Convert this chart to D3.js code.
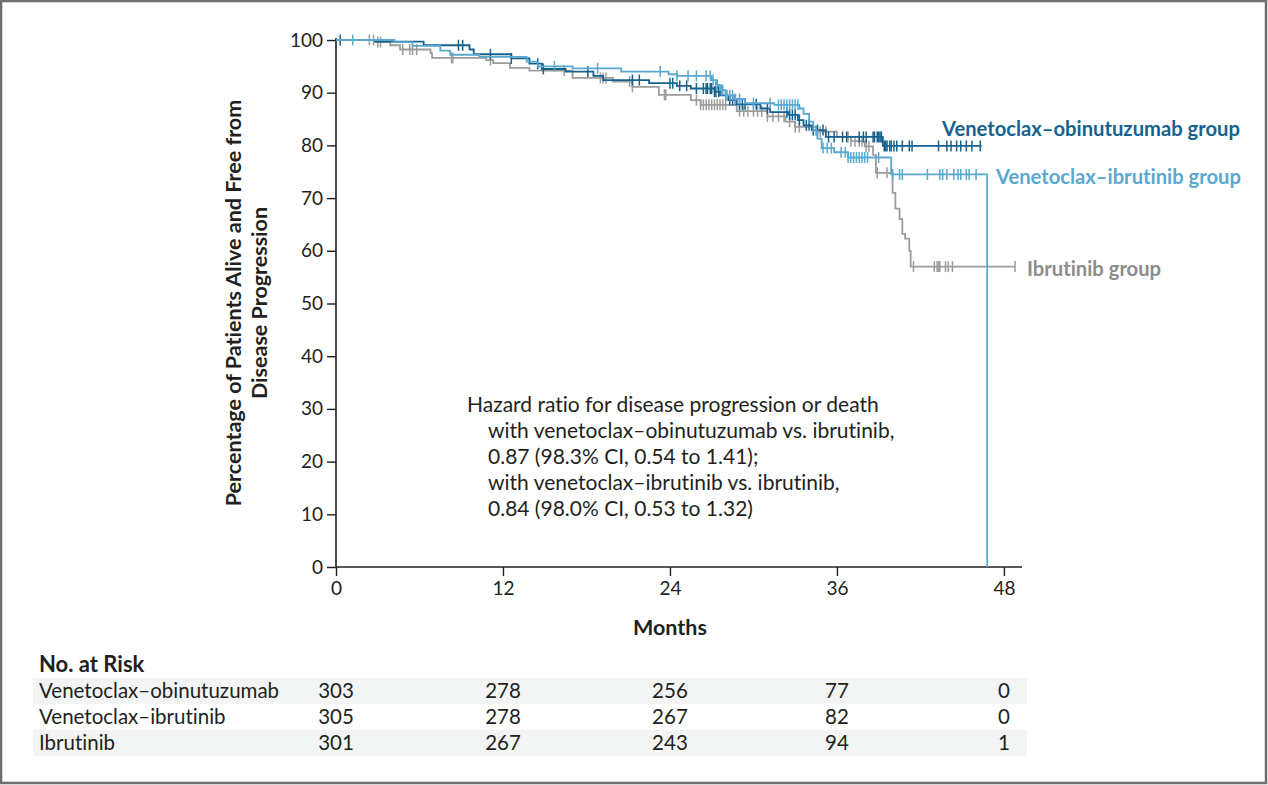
<!DOCTYPE html>
<html>
<head>
<meta charset="utf-8">
<script src="https://cdn.jsdelivr.net/npm/d3@7"></script>
<style>
  html, body { margin: 0; padding: 0; background: #fff; }
  svg { display: block; }
  text { font-family: Lato, "Open Sans", sans-serif; fill: #231f20; font-variant-ligatures: none; font-feature-settings: "liga" 0, "clig" 0; }
</style>
</head>
<body>
<svg id="chart" width="1268" height="785"></svg>
<script>
// ---------- DATA ----------
const xTicks = [0, 12, 24, 36, 48];
const yTicks = [0, 10, 20, 30, 40, 50, 60, 70, 80, 90, 100];

const groupNames = ["Venetoclax\u2013obinutuzumab group", "Venetoclax\u2013ibrutinib group", "Ibrutinib group"];
const riskLabels = ["Venetoclax\u2013obinutuzumab", "Venetoclax\u2013ibrutinib", "Ibrutinib"];
const riskVO = [303, 278, 256, 77, 0];
const riskVI = [305, 278, 267, 82, 0];
const riskIB = [301, 267, 243, 94, 1];

// step points: [month, percent]  (survival drops to percent at month)
const voSteps = [[0,100],[2.8,99.7],[6.3,99.0],[9.6,98.2],[9.9,97.3],[12.6,96.5],[13.9,95.5],[14.8,94.5],[16.5,94.0],
  [18.5,93.2],[19.2,92.4],[22.5,91.8],[24.5,91.3],[25.5,90.8],[27.2,90.2],[27.6,89.5],[28.2,88.6],[28.8,87.8],
  [30.5,87.0],[31.2,86.3],[32.5,85.8],[33.2,84.8],[33.6,83.8],[34.2,82.9],[35.2,81.6],[39.3,79.9]];
const voEnd = 46.4;
const voCensor = [0.3,8.8,9.1,11.1,12.6,14.5,14.9,18.1,21.3,21.8,24.0,24.2,24.7,25.2,25.9,26.4,26.6,26.7,26.9,27.0,
  27.2,27.3,27.5,28.3,28.5,28.7,29.0,29.2,29.4,30.2,31.0,32.4,32.6,32.8,33.0,33.3,33.8,34.0,34.3,34.6,35.0,35.4,35.8,
  36.4,36.7,37.6,37.9,38.1,38.6,38.7,38.9,39.0,39.1,39.2,39.4,39.5,39.6,39.8,39.9,40.1,40.3,40.7,41.2,41.4,
  43.3,43.9,44.2,44.6,44.9,45.3,45.7,46.3];

const viSteps = [[0,100],[4.2,99.6],[5.5,98.9],[7.5,98.0],[8.2,97.2],[10.3,96.8],[13.7,95.9],[14.5,95.0],[17.0,94.6],
  [20.5,94.0],[23.9,93.5],[24.5,93.2],[27.0,92.4],[27.3,91.5],[27.6,90.5],[28.0,89.5],[28.6,88.8],[29.4,88.0],
  [31.5,87.7],[33.3,87.0],[33.6,86.0],[34.0,84.5],[34.3,82.8],[34.6,81.3],[34.9,79.5],[35.8,78.7],[36.8,77.7],
  [39.9,74.5],[46.8,0]];
const viEnd = 46.8;
const viCensor = [1.2,15.7,18.8,23.3,24.5,25.3,25.9,26.6,26.9,27.1,27.4,27.7,27.8,28.0,28.1,28.3,28.5,28.7,29.0,30.0,
  31.2,31.8,32.0,32.2,32.4,32.6,32.8,33.0,33.2,34.5,35.0,35.3,35.6,36.3,36.6,36.8,37.0,37.2,37.4,37.6,37.8,38.0,
  38.2,39.0,40.0,40.5,40.7,42.5,43.4,43.6,43.9,44.4,44.7,44.9,45.3,45.5,46.0];

const ibSteps = [[0,100],[2.9,99.6],[3.9,99.0],[4.6,98.2],[6.8,97.5],[6.9,96.6],[10.8,96.2],[11.3,95.6],[12.5,94.7],
  [13.9,94.2],[17.0,92.8],[19.9,92.1],[21.3,91.1],[23.2,89.6],[25.5,88.6],[26.2,87.7],[28.8,86.5],[31.0,85.5],
  [32.3,84.5],[33.0,83.5],[34.6,82.6],[36.0,81.6],[37.0,80.8],[38.0,79.8],[38.6,78.2],[38.8,74.8],[40.0,71.0],
  [40.2,68.0],[40.5,66.0],[40.7,63.2],[40.9,62.3],[41.2,60.0],[41.3,57.0]];
const ibEnd = 48.8;
const ibCensor = [2.4,2.7,3.0,3.2,4.8,5.3,5.5,5.8,8.3,8.4,11.1,16.4,19.0,19.2,19.4,21.1,21.3,23.6,23.7,25.9,26.2,26.4,
  26.6,26.8,27.0,27.2,27.4,27.6,27.8,28.0,29.0,29.3,29.6,30.0,30.3,30.6,31.0,31.4,31.8,32.2,32.6,33.0,33.3,34.8,35.2,
  36.8,37.0,37.3,37.6,37.8,38.1,38.3,38.9,39.6,41.5,43.0,43.2,43.3,43.4,43.8,44.0,44.3,48.8];

const hrLines = ["Hazard ratio for disease progression or death",
  "with venetoclax\u2013obinutuzumab vs. ibrutinib,",
  "0.87 (98.3% CI, 0.54 to 1.41);",
  "with venetoclax\u2013ibrutinib vs. ibrutinib,",
  "0.84 (98.0% CI, 0.53 to 1.32)"];

// ---------- STYLE ----------
const C_VO = "#15628f", C_VI = "#5aa8d0", C_IB = "#9c9c9c";
const C_VO_T = "#15628f", C_VI_T = "#5aa8d0", C_IB_T = "#8c8c8c";

const svg = d3.select("#chart");
// frame
svg.append("rect").attr("x", 1).attr("y", 1).attr("width", 1265).attr("height", 782)
  .attr("fill", "none").attr("stroke", "#6e6e6e").attr("stroke-width", 2.5);

const x = d3.scaleLinear().domain([0, 49.3]).range([336, 1022]);
const y = d3.scaleLinear().domain([0, 100]).range([567, 40]);

// axes
const xAxis = svg.append("g").attr("transform", "translate(0,567)")
  .call(d3.axisBottom(x).tickValues(xTicks).tickSize(9).tickPadding(6).tickSizeOuter(0));
const yAxis = svg.append("g").attr("transform", "translate(336,0)")
  .call(d3.axisLeft(y).tickValues(yTicks).tickSize(9).tickPadding(4).tickSizeOuter(0));
[xAxis, yAxis].forEach(g => {
  g.select(".domain").attr("stroke", "#231f20").attr("stroke-width", 1.6);
  g.selectAll(".tick line").attr("stroke", "#231f20").attr("stroke-width", 1.4);
  g.selectAll(".tick text").attr("font-size", 19).attr("fill", "#231f20")
    .style("font-family", "Lato, sans-serif");
});
yAxis.select(".domain").attr("d", `M0,${y(0)}V${y(100) - 2}`);
xAxis.select(".domain").attr("d", `M${x(0)},0H${x(49.3)}`);

// axis titles
svg.append("text").attr("x", x(24)).attr("y", 635).attr("text-anchor", "middle")
  .attr("font-size", 21.5).attr("font-weight", 700).text("Months");
const yt = svg.append("text").attr("transform", `translate(241,303) rotate(-90)`)
  .attr("text-anchor", "middle").attr("font-size", 21.5).attr("font-weight", 700);
yt.append("tspan").attr("x", 0).attr("dy", 0).text("Percentage of Patients Alive and Free from");
yt.append("tspan").attr("x", 0).attr("dy", 26).text("Disease Progression");

// curves
const series = [
  {steps: ibSteps, end: ibEnd, censor: ibCensor, color: C_IB},
  {steps: voSteps, end: voEnd, censor: voCensor, color: C_VO},
  {steps: viSteps, end: viEnd, censor: viCensor, color: C_VI}
];
const line = d3.line().x(d => x(d[0])).y(d => y(d[1])).curve(d3.curveStepAfter);
function survAt(steps, t) {
  let s = steps[0][1];
  for (const p of steps) { if (p[0] <= t) s = p[1]; }
  return s;
}
series.forEach(sr => {
  const pts = sr.steps.slice();
  const last = pts[pts.length - 1];
  if (last[0] < sr.end) pts.push([sr.end, last[1]]);
  const g = svg.append("g");
  g.append("path").attr("d", line(pts)).attr("fill", "none")
    .attr("stroke", sr.color).attr("stroke-width", 1.8);
  g.selectAll("line.c").data(sr.censor).enter().append("line")
    .attr("x1", d => x(d)).attr("x2", d => x(d))
    .attr("y1", d => y(survAt(sr.steps, d)) - 5.5)
    .attr("y2", d => y(survAt(sr.steps, d)) + 5.5)
    .attr("stroke", sr.color).attr("stroke-width", 1.5);
});

// group labels
const lab = svg.append("g").attr("font-size", 20.2).attr("font-weight", 700);
lab.append("text").attr("x", 942).attr("y", 136).style("fill", C_VO_T).text(groupNames[0]);
lab.append("text").attr("x", 996).attr("y", 184).style("fill", C_VI_T).text(groupNames[1]);
lab.append("text").attr("x", 1027).attr("y", 276).style("fill", C_IB_T).text(groupNames[2]);

// hazard ratio text
const hr = svg.append("g").attr("font-size", 21);
hrLines.forEach((t, i) => {
  hr.append("text").attr("x", i === 0 ? 467 : 488).attr("y", 412 + i * 26).text(t);
});

// risk table
svg.append("text").attr("x", 39).attr("y", 672).attr("font-size", 22).attr("font-weight", 700).text("No. at Risk");
const rows = [riskVO, riskVI, riskIB];
rows.forEach((r, i) => {
  const cy = 691 + i * 26;
  if (i !== 1) {
    svg.append("rect").attr("x", 33).attr("y", cy - 13).attr("width", 994).attr("height", 26).attr("fill", "#f3f4f4");
  }
  svg.append("text").attr("x", 39).attr("y", cy + 7).attr("font-size", 20.5).text(riskLabels[i]);
  svg.selectAll(null).data(r).enter().append("text")
    .attr("x", (d, j) => x(xTicks[j]))
    .attr("y", cy + 7).attr("font-size", 20.5).attr("text-anchor", "middle").text(d => d);
});
</script>
</body>
</html>
